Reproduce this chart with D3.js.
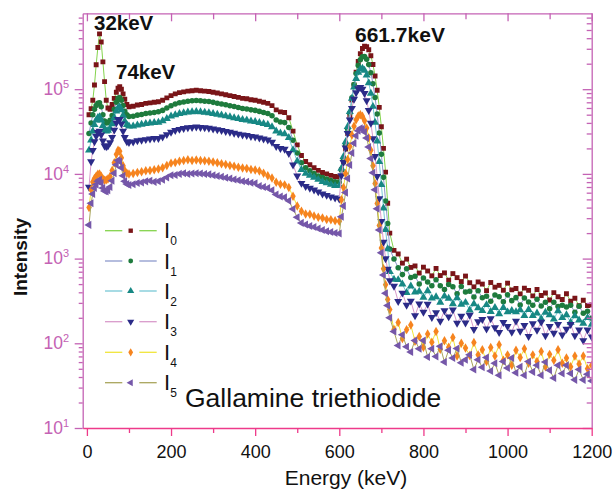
<!DOCTYPE html>
<html>
<head>
<meta charset="utf-8">
<script src="https://cdn.jsdelivr.net/npm/d3@7"></script>
<style>
  body { margin: 0; background: #fff; }
  text { font-family: "Liberation Sans", Arial, sans-serif; }
</style>
</head>
<body>
<div class="chart"></div>
<script>
// Energy channels (keV)
var energy = [5,10,14,18,22,26,30,34,38,42,46,50,55,60,65,70,74,78,82,86,90,95,100,
  110,120,130,140,150,160,170,180,190,200,210,220,230,240,250,260,270,280,290,300,
  310,320,330,340,350,360,370,380,390,400,410,420,430,440,450,460,470,480,490,500,
  510,520,530,540,550,560,570,580,590,600,
  605,610,615,620,625,630,635,640,645,650,655,660,665,670,675,680,685,690,695,700,705,710,715,720,
  730,740,750,760,770,780,790,800,810,820,830,840,850,860,870,880,890,900,910,920,
  930,940,950,960,970,980,990,1000,1010,1020,1030,1040,1050,1060,1070,1080,1090,1100,
  1110,1120,1130,1140,1150,1160,1170,1180,1190,1200];

var i0 = [50000,59000,74000,112000,194000,310000,450000,360000,210000,123000,74000,60000,58000,66000,78000,92000,103000,107000,100000,88000,76000,66000,62000,
  63000,65000,66000,68000,69000,70000,71000,74000,79000,84000,88000,91000,93000,95000,96000,97000,96000,95000,94000,92000,
  90000,88000,86000,84000,82000,80000,78000,77000,75000,74000,72000,70000,68000,64000,57000,54000,53000,46000,32000,22000,
  16500,14000,12800,11800,11000,10400,10000,9600,9300,9200,
  11200,13900,19600,30000,47700,74400,112000,159000,212000,262000,302000,322000,318000,292000,248000,196000,143000,97000,61000,36000,20000,10500,4500,2000,
  1250,1134,884,986,787,819,675,792,714,626,765,631,678,556,665,596,536,622,519,464,
  530,500,418,522,460,483,423,513,427,444,383,448,421,363,431,367,392,325,
  396,355,329,384,314,340,278,322,279,283];

var i1 = [30000,40000,50000,58000,64000,68000,69000,62000,50000,42000,40000,40500,43000,49000,58000,70000,78000,80000,74000,64000,55000,50000,47500,
  47900,49400,50200,51700,52400,53200,54000,56200,60000,63800,66900,69200,70700,72200,73000,73700,73000,72200,71400,69900,
  68400,66900,65400,63800,62300,60800,59300,58500,57000,56200,54700,53200,51700,48600,43300,41000,40300,35400,25000,17600,
  13500,11800,10900,10100,9460,9050,8700,8350,8090,8000,
  11100,14900,21800,33700,52400,79100,113500,153000,191000,223000,242000,242500,226000,195000,156000,116000,80000,51000,30400,17100,9100,4800,2600,1300,
  990,782,647,759,597,620,501,589,530,479,564,478,431,495,465,384,468,403,412,351,
  418,345,359,313,372,354,310,373,319,346,284,342,308,282,331,276,305,256,
  306,271,281,269,282,233,273,227,239,198];

var i2 = [19000,25000,32000,38000,43000,46000,47000,43000,37000,33000,32000,32500,34500,39000,46000,55000,60000,62000,57000,49000,42000,38000,36500,
  36500,37700,38300,39100,39700,40200,40500,42200,45000,47900,49700,51400,52500,53700,53800,54300,53800,53200,52600,51500,
  50400,49300,48200,47000,45900,44800,43700,43100,42000,41400,40300,39200,38100,35800,31900,30200,29700,26700,19200,14100,
  11200,10100,9600,9090,8580,8110,7800,7490,7250,7270,
  11600,15950,23800,36200,54300,77900,105300,133300,157400,172800,176200,166600,146100,118800,89400,62400,40500,24400,13900,7450,3950,2200,1300,700,
  569,562,499,395,473,402,410,348,415,340,353,304,360,338,292,344,287,303,246,292,
  262,242,285,237,263,222,263,234,243,235,248,212,250,212,227,194,232,216,
  192,241,200,216,176,211,188,172,200,167];

var i3 = [7000,14000,19000,24000,28000,31000,32000,29000,24500,21500,21000,21500,23500,27000,33000,40000,44000,44000,39000,32000,27000,24000,23500,
  23900,24700,25100,25500,25900,26300,26300,27400,29200,31100,32600,33700,34400,35200,35500,35900,35500,35200,34800,34000,
  33300,32600,31800,31100,30300,29600,28900,28500,27800,27400,26600,25900,25200,23700,21100,20000,19600,17500,12800,9460,
  7760,7140,6780,6490,6160,5820,5600,5380,5210,5060,
  9530,13700,20300,30200,43500,59600,76300,91300,101600,105000,100600,89300,73400,56200,39800,26200,16150,9360,5130,2760,1570,1000,750,550,
  473,312,393,283,316,212,293,233,290,203,231,183,244,206,249,173,209,174,215,146,
  180,192,148,196,153,135,177,159,136,183,139,163,121,171,143,178,123,159,
  132,168,126,147,167,123,144,108,144,119];

var i4 = [4000,6500,8000,8800,9400,9900,10000,9400,8700,8400,8500,8700,9300,11000,13500,17000,19000,18500,15500,12500,11000,10200,10000,
  10100,10400,10600,10900,11000,11200,11400,11800,12600,13400,13600,14100,14400,14700,14400,14600,14400,14300,14100,13800,
  13500,13200,12900,12600,12300,12000,11700,11600,11300,11100,10800,10200,9520,8960,7980,7560,7420,6900,5440,4180,
  3630,3360,3330,3190,3080,3020,2900,2880,2790,2760,
  4960,6900,10100,14800,21100,28700,36500,43600,48400,50000,47800,42500,34900,26800,19000,12500,7700,4470,2460,1330,760,490,330,250,
  146,176,114,145,164,106,120,90,129,103,138,85,107,90,117,71,100,88,72,102,
  73,84,61,89,71,96,63,73,55,83,68,86,58,73,61,80,53,74,
  63,84,58,67,53,71,57,71,50,55];

var i5 = [2500,4500,5800,6800,7500,8200,8500,7800,6800,6300,6200,6400,7000,8300,10200,12800,14500,14000,11800,9500,8200,7600,7400,
  7560,7800,7920,8160,8280,8050,8170,8510,9090,9660,9680,10000,10200,9980,10100,10200,10100,9980,9870,9660,
  9450,9240,9030,8820,8610,8400,8190,8090,7880,7770,7200,7000,6800,6400,5700,5400,5300,4830,3840,3080,
  2640,2520,2430,2360,2260,2180,2100,2060,2000,1980,
  3120,4190,6010,8800,12750,17600,23060,28300,32400,34500,34000,31200,26500,20800,15200,10300,6500,3870,2170,1170,640,390,280,200,
  138,94,126,91,79,108,86,108,69,86,70,92,60,83,67,87,59,64,73,49,
  64,52,68,47,58,42,61,51,67,45,53,42,61,46,55,42,60,48,
  39,55,44,55,44,37,49,37,43,36];

var seriesNames = ['0', '1', '2', '3', '4', '5'];
var xTicks = [0, 100, 200, 300, 400, 500, 600, 700, 800, 900, 1000, 1100, 1200];
var yDecades = [1, 2, 3, 4, 5];
var peakLabels = [{text: '32keV', e: 32}, {text: '74keV', e: 74}, {text: '661.7keV', e: 661.7}];

// styles
var markerColors = ['#7a1518', '#1e7b3d', '#178884', '#2b2b88', '#f6841f', '#7557a9'];
var lineColors = ['#84d34c', '#8d99cd', '#78c8d6', '#d99acb', '#f1e53a', '#a9a55c'];
var symbols = [
  {type: d3.symbolSquare, size: 24, rot: 0},
  {type: d3.symbolCircle, size: 24, rot: 0},
  {type: d3.symbolTriangle, size: 28, rot: 0},
  {type: d3.symbolTriangle, size: 28, rot: 180},
  {type: d3.symbolDiamond, size: 26, rot: 0},
  {type: d3.symbolTriangle, size: 28, rot: -90}
];
var legendSizes = [19, 18, 22, 22, 20, 22];
var axisColor = '#c462b4';
var bottomColor = '#ee3a8a';

var settings = {w: 616, h: 489, left: 82.7, right: 591.7, top: 13.3, bottom: 428};

var svg = d3.select('.chart').append('svg')
  .attr('width', settings.w)
  .attr('height', settings.h)
  .style('display', 'block');

var x = d3.scaleLinear().domain([-10, 1200]).range([settings.left, settings.right]);
var y = d3.scaleLog().domain([10, 7.87e5]).range([settings.bottom, settings.top]);

svg.append('clipPath').attr('id', 'clip')
  .append('rect')
  .attr('x', settings.left).attr('y', settings.top)
  .attr('width', settings.right - settings.left)
  .attr('height', settings.bottom - settings.top);

var all = [i0, i1, i2, i3, i4, i5];
var marks = svg.append('g').attr('clip-path', 'url(#clip)');

var line = d3.line()
  .x(function(d, i) { return x(energy[i]); })
  .y(function(d) { return y(d); });

all.forEach(function(vals, k) {
  var g = marks.append('g');
  g.append('path')
    .attr('d', line(vals))
    .attr('fill', 'none')
    .attr('stroke', lineColors[k])
    .attr('stroke-width', 1);
  var sym = d3.symbol().type(symbols[k].type).size(symbols[k].size);
  g.selectAll('path.pt')
    .data(vals)
    .enter()
    .append('path')
    .attr('class', 'pt')
    .attr('d', sym)
    .attr('transform', function(d, i) {
      return 'translate(' + x(energy[i]) + ',' + y(d) + ') rotate(' + symbols[k].rot + ')';
    })
    .attr('fill', markerColors[k]);
});

// axes
var minorY = y.ticks();
function isMajorY(d) { return Math.abs(Math.log10(d) - Math.round(Math.log10(d))) < 1e-6; }

var leftAxis = svg.append('g')
  .attr('transform', 'translate(' + settings.left + ',0)')
  .call(d3.axisLeft(y).tickValues(minorY).tickSize(8).tickSizeOuter(0).tickFormat(''));
leftAxis.selectAll('.tick line').attr('x2', function(d) { return isMajorY(d) ? -8 : -4; });

var rightAxis = svg.append('g')
  .attr('transform', 'translate(' + settings.right + ',0)')
  .call(d3.axisLeft(y).tickValues(minorY).tickSize(9).tickSizeOuter(0).tickFormat(''));
rightAxis.selectAll('.tick line').attr('x2', function(d) { return isMajorY(d) ? -9 : -5; });

var topAxis = svg.append('g')
  .attr('transform', 'translate(0,' + settings.top + ')')
  .call(d3.axisBottom(x).tickValues(xTicks).tickSize(8).tickSizeOuter(0).tickFormat(''));
topAxis.selectAll('.tick line').attr('y2', function(d) { return d % 200 === 0 ? 8 : 6; });

[leftAxis, rightAxis, topAxis].forEach(function(a) {
  a.selectAll('path, line').attr('stroke', axisColor).attr('stroke-width', 1.3);
});

var bottomAxis = svg.append('g')
  .attr('transform', 'translate(0,' + settings.bottom + ')')
  .call(d3.axisBottom(x).tickValues(xTicks).tickSize(8).tickSizeOuter(0)
    .tickFormat(function(d) { return d % 200 === 0 ? d : ''; }));
bottomAxis.selectAll('.tick line').attr('y2', function(d) { return d % 200 === 0 ? 8 : 5; });
bottomAxis.selectAll('path, line').attr('stroke', bottomColor).attr('stroke-width', 1.3);
bottomAxis.selectAll('.tick text')
  .attr('y', 30).attr('dy', 0)
  .attr('fill', '#111')
  .style('font-size', '18px')
  .style('font-family', '"Liberation Sans", Arial, sans-serif');

// y tick labels 10^n
yDecades.forEach(function(n) {
  var t = svg.append('text')
    .attr('x', 69)
    .attr('y', y(Math.pow(10, n)) + 5.8)
    .attr('text-anchor', 'end')
    .attr('fill', axisColor)
    .style('font-size', '17.5px')
    .text('10');
  t.append('tspan').attr('dy', -7).style('font-size', '11px').text(n);
});

// axis titles
svg.append('text')
  .attr('x', 346).attr('y', 485)
  .attr('text-anchor', 'middle')
  .style('font-size', '21px')
  .attr('fill', '#111')
  .text('Energy (keV)');

svg.append('text')
  .attr('transform', 'translate(27,257) rotate(-90)')
  .attr('text-anchor', 'middle')
  .style('font-size', '19px')
  .style('font-weight', 'bold')
  .attr('fill', '#111')
  .text('Intensity');

// peak labels
var peakPos = [[94, 30, 20.5], [116, 79, 20.5], [355, 42, 21]];
peakLabels.forEach(function(p, k) {
  svg.append('text')
    .attr('x', peakPos[k][0]).attr('y', peakPos[k][1])
    .style('font-size', peakPos[k][2] + 'px')
    .style('font-weight', 'bold')
    .attr('fill', '#111')
    .text(p.text);
});

// legend
var legendY = [230.7, 261, 291, 321.7, 352.3, 382.7];
seriesNames.forEach(function(n, k) {
  var ly = legendY[k];
  var lg = svg.append('g');
  lg.append('line').attr('x1', 105).attr('x2', 122.3).attr('y1', ly).attr('y2', ly)
    .attr('stroke', lineColors[k]).attr('stroke-width', 1.3);
  lg.append('line').attr('x1', 139.3).attr('x2', 156.7).attr('y1', ly).attr('y2', ly)
    .attr('stroke', lineColors[k]).attr('stroke-width', 1.3);
  lg.append('path')
    .attr('d', d3.symbol().type(symbols[k].type).size(legendSizes[k])())
    .attr('transform', 'translate(130.7,' + ly + ') rotate(' + symbols[k].rot + ')')
    .attr('fill', markerColors[k]);
  var t = lg.append('text')
    .attr('x', 164).attr('y', ly + 7.6)
    .style('font-size', '22px')
    .attr('fill', '#111')
    .text('I');
  t.append('tspan').attr('dy', 7).style('font-size', '12px').text(n);
});

svg.append('text')
  .attr('x', 185).attr('y', 407)
  .style('font-size', '26.5px')
  .attr('fill', '#111')
  .text('Gallamine triethiodide');
</script>
</body>
</html>
